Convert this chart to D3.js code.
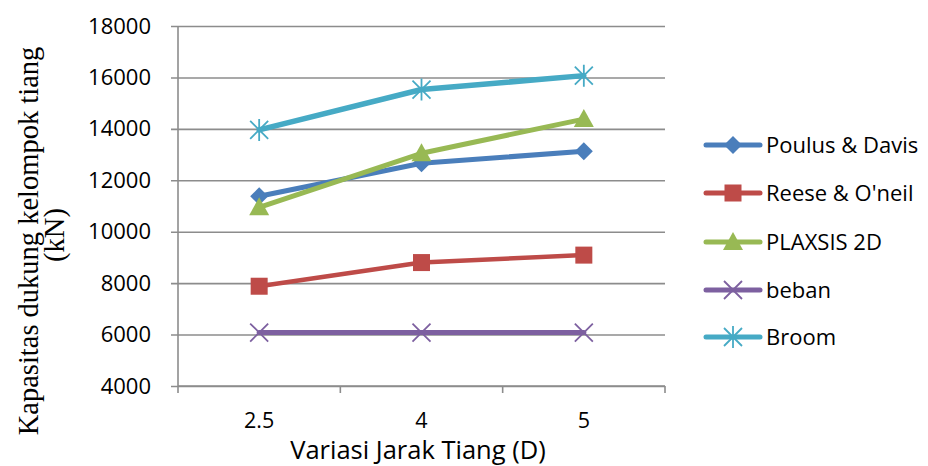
<!DOCTYPE html>
<html>
<head>
<meta charset="utf-8">
<script src="https://cdn.jsdelivr.net/npm/d3@7"></script>
<style>
  html, body { margin: 0; padding: 0; background: #fff; }
  svg { display: block; }
</style>
</head>
<body>
<svg id="chart" width="928" height="466"></svg>
<script>
// Category axis: pile spacing variation (multiples of D)
const categories = ["2.5", "4", "5"];
const yTicks = [4000, 6000, 8000, 10000, 12000, 14000, 16000, 18000];

// Group pile bearing capacity (kN) per method
const poulusDavis = [11380, 12660, 13130];
const reeseOneil  = [7880, 8800, 9090];
const plaxsis2d   = [10950, 13050, 14380];
const beban       = [6080, 6080, 6080];
const broom       = [13960, 15530, 16070];

const seriesNames = ["Poulus & Davis", "Reese & O'neil", "PLAXSIS 2D", "beban", "Broom"];
const seriesValues = [poulusDavis, reeseOneil, plaxsis2d, beban, broom];
const colors = ["#4a7ebb", "#be4b48", "#98b954", "#7d60a0", "#46aac5"];
const markers = ["diamond", "square", "triangle", "x", "star"];

const svg = d3.select("#chart");
const margin = { left: 178, right: 263, top: 26, bottom: 80 };
const W = 928, H = 466;

const x = d3.scaleBand().domain(categories).range([margin.left, W - margin.right]).paddingInner(0).paddingOuter(0);
const y = d3.scaleLinear().domain([4000, 18000]).range([H - margin.bottom, margin.top]);

const gridColor = "#8c8c8c";
const tickFont = "'Open Sans', 'Liberation Sans', sans-serif";

// Horizontal gridlines + left ticks
const yAxis = d3.axisLeft(y).tickValues(yTicks).tickSize(-(W - margin.right - margin.left)).tickPadding(20).tickFormat(d3.format("d"));
const gy = svg.append("g").attr("transform", `translate(${margin.left},0)`).call(yAxis);
gy.select(".domain").remove();
gy.selectAll(".tick line").attr("stroke", gridColor).attr("stroke-width", 1.6).attr("x1", -7);
gy.selectAll(".tick text").attr("font-family", tickFont).attr("font-size", 22).attr("fill", "#000").attr("x", -27);

// Left axis line
svg.append("line").attr("x1", margin.left).attr("x2", margin.left).attr("y1", y(18000)).attr("y2", y(4000))
  .attr("stroke", gridColor).attr("stroke-width", 1.6);

// Bottom axis: ticks at category boundaries
const bounds = categories.map(c => x(c)).concat([x(categories[categories.length - 1]) + x.bandwidth()]);
svg.append("g").selectAll("line").data(bounds).join("line")
  .attr("x1", d => d).attr("x2", d => d).attr("y1", y(4000)).attr("y2", y(4000) + 7)
  .attr("stroke", gridColor).attr("stroke-width", 1.6);
svg.append("line").attr("x1", margin.left).attr("x2", W - margin.right).attr("y1", y(4000)).attr("y2", y(4000))
  .attr("stroke", gridColor).attr("stroke-width", 1.6);
svg.append("g").selectAll("text").data(categories).join("text")
  .attr("x", d => x(d) + x.bandwidth() / 2).attr("y", y(4000) + 42)
  .attr("text-anchor", "middle").attr("font-family", tickFont).attr("font-size", 21.5).text(d => d);

// Axis titles
svg.append("text").attr("x", 418).attr("y", 459).attr("text-anchor", "middle")
  .attr("font-family", tickFont).attr("font-size", 25.5).text("Variasi Jarak Tiang (D)");
const yt = svg.append("text").attr("transform", "translate(38,241) rotate(-90)")
  .attr("text-anchor", "middle").attr("font-family", "'Liberation Serif', 'Times New Roman', serif").attr("font-size", 28.5);
yt.append("tspan").attr("x", 0).attr("dy", 0).text("Kapasitas dukung kelompok tiang");
yt.append("tspan").attr("x", 6).attr("dy", 26).text("(kN)");

// Marker drawing
function drawMarker(g, type, color) {
  if (type === "diamond") {
    g.append("path").attr("d", "M0,-9L9,0L0,9L-9,0Z").attr("fill", color);
  } else if (type === "square") {
    g.append("rect").attr("x", -8.5).attr("y", -8.5).attr("width", 17).attr("height", 17).attr("fill", color);
  } else if (type === "triangle") {
    g.append("path").attr("d", "M0,-10L10,8L-10,8Z").attr("fill", color);
  } else if (type === "x") {
    g.append("path").attr("d", "M-9,-9L9,9M-9,9L9,-9").attr("stroke", color).attr("stroke-width", 1.8);
  } else if (type === "star") {
    g.append("path").attr("d", "M-9,-9L9,9M-9,9L9,-9M0,-11L0,11").attr("stroke", color).attr("stroke-width", 1.8);
  }
}

const line = d3.line().x((d, i) => x(categories[i]) + x.bandwidth() / 2).y(d => y(d));
const lineWidths = [5, 4.5, 5, 5, 5.5];

seriesValues.forEach((vals, s) => {
  svg.append("path").datum(vals).attr("d", line).attr("fill", "none")
    .attr("stroke", colors[s]).attr("stroke-width", lineWidths[s]).attr("stroke-linejoin", "round").attr("stroke-linecap", "round");
  vals.forEach((v, i) => {
    const g = svg.append("g").attr("transform", `translate(${x(categories[i]) + x.bandwidth() / 2},${y(v)})`);
    drawMarker(g, markers[s], colors[s]);
  });
});

// Legend
const legendY = [145, 193, 242, 290, 337];
seriesNames.forEach((name, s) => {
  const g = svg.append("g").attr("transform", `translate(706,${legendY[s]})`);
  g.append("line").attr("x1", 0).attr("x2", 54).attr("y1", 0).attr("y2", 0)
    .attr("stroke", colors[s]).attr("stroke-width", 5).attr("stroke-linecap", "round");
  const m = g.append("g").attr("transform", "translate(27,0)");
  drawMarker(m, markers[s], colors[s]);
  g.append("text").attr("x", 60).attr("y", 0).attr("dy", "0.35em")
    .attr("font-family", tickFont).attr("font-size", 22).text(name);
});
</script>
</body>
</html>
